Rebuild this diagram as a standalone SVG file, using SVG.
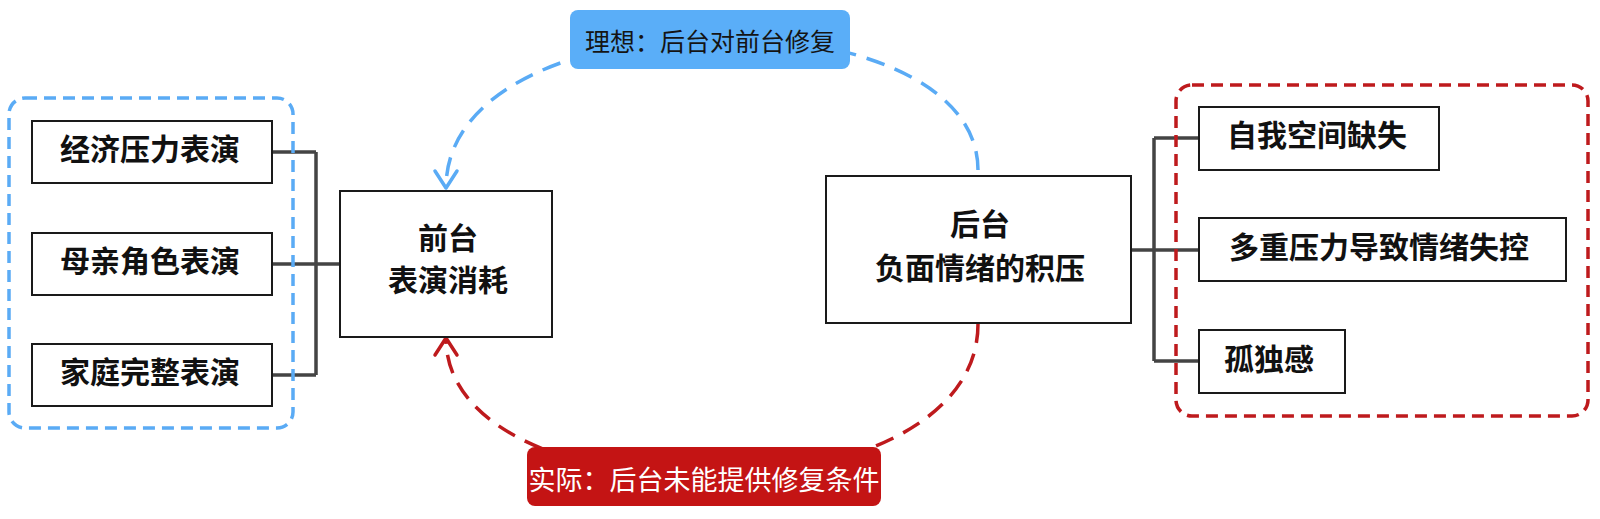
<svg xmlns="http://www.w3.org/2000/svg" width="1600" height="519" viewBox="0 0 1600 519">
  <style>
    .box { fill: #ffffff; stroke: #1a1a1a; stroke-width: 2; }
    .t { font-family: "Noto Sans CJK SC", "Noto Sans", sans-serif; font-size: 30px; font-weight: 700; fill: #111111; text-anchor: middle; dominant-baseline: central; }
    .conn { fill: none; stroke: #444444; stroke-width: 3.5; }
    .frame { fill: none; stroke-width: 3.5; stroke-dasharray: 12 7; }
    .lbl { font-family: "Noto Sans CJK SC", "Noto Sans", sans-serif; text-anchor: middle; dominant-baseline: central; }
  </style>
  <defs>
    <marker id="arrBlue" markerUnits="userSpaceOnUse" markerWidth="40" markerHeight="40" viewBox="-20 -20 40 40" refX="0" refY="0" orient="auto">
      <path d="M -17 -11 L 0 0 L -17 11" fill="none" stroke="#5aabf5" stroke-width="3.5" stroke-linecap="round" stroke-linejoin="round" stroke-dasharray="none"/>
    </marker>
    <marker id="arrRed" markerUnits="userSpaceOnUse" markerWidth="40" markerHeight="40" viewBox="-20 -20 40 40" refX="0" refY="0" orient="auto">
      <path d="M -17 -11 L 0 0 L -17 11" fill="none" stroke="#be1a1d" stroke-width="3.5" stroke-linecap="round" stroke-linejoin="round" stroke-dasharray="none"/>
    </marker>
  </defs>

  <g id="connectors">
    <path class="conn" d="M 272 152 H 316 M 272 264 H 316 M 272 375 H 316 M 316 152 V 375 M 316 264 H 340"/>
    <path class="conn" d="M 1131 250 H 1154 M 1154 138 V 361 M 1154 138 H 1199 M 1154 250 H 1199 M 1154 361 H 1199"/>
    <path id="arc-ideal" d="M 978 170 C 978 -10 446 -10 446 188" fill="none" stroke="#5aabf5" stroke-width="3.5" stroke-dasharray="19 11" marker-end="url(#arrBlue)"/>
    <path id="arc-actual" d="M 978 324 C 978 525 446 525 446 338" fill="none" stroke="#be1a1d" stroke-width="3.5" stroke-dasharray="19 11" marker-end="url(#arrRed)"/>
  </g>

  <g id="frame-left">
    <rect class="frame" x="9" y="98" width="284" height="330" rx="16" stroke="#5aabf5"/>
  </g>
  <g id="frame-right">
    <rect class="frame" x="1176" y="85" width="412" height="331" rx="16" stroke="#be1a1d"/>
  </g>

  <g id="node-jingji">
    <rect class="box" x="32" y="121" width="240" height="62"/>
    <text class="t" x="150" y="147">经济压力表演</text>
  </g>
  <g id="node-muqin">
    <rect class="box" x="32" y="233" width="240" height="62"/>
    <text class="t" x="150" y="259">母亲角色表演</text>
  </g>
  <g id="node-jiating">
    <rect class="box" x="32" y="344" width="240" height="62"/>
    <text class="t" x="150" y="370">家庭完整表演</text>
  </g>
  <g id="node-qiantai">
    <rect class="box" x="340" y="191" width="212" height="146"/>
    <text class="t" x="448" y="236">前台</text>
    <text class="t" x="448" y="278">表演消耗</text>
  </g>
  <g id="node-houtai">
    <rect class="box" x="826" y="176" width="305" height="147"/>
    <text class="t" x="980" y="222">后台</text>
    <text class="t" x="980" y="266">负面情绪的积压</text>
  </g>
  <g id="node-ziwo">
    <rect class="box" x="1199" y="107" width="240" height="63"/>
    <text class="t" x="1317" y="133">自我空间缺失</text>
  </g>
  <g id="node-duozhong">
    <rect class="box" x="1199" y="218" width="367" height="63"/>
    <text class="t" x="1379" y="245">多重压力导致情绪失控</text>
  </g>
  <g id="node-gudu">
    <rect class="box" x="1199" y="330" width="146" height="63"/>
    <text class="t" x="1269" y="357">孤独感</text>
  </g>

  <g id="label-ideal">
    <rect x="570" y="10" width="280" height="59" rx="8" fill="#5aaef8"/>
    <text class="lbl" x="710" y="40" font-size="25" fill="#141414">理想：后台对前台修复</text>
  </g>
  <g id="label-actual">
    <rect x="527" y="447" width="354" height="59" rx="8" fill="#c41414"/>
    <text class="lbl" x="704" y="478" font-size="27" fill="#ffffff">实际：后台未能提供修复条件</text>
  </g>
</svg>
